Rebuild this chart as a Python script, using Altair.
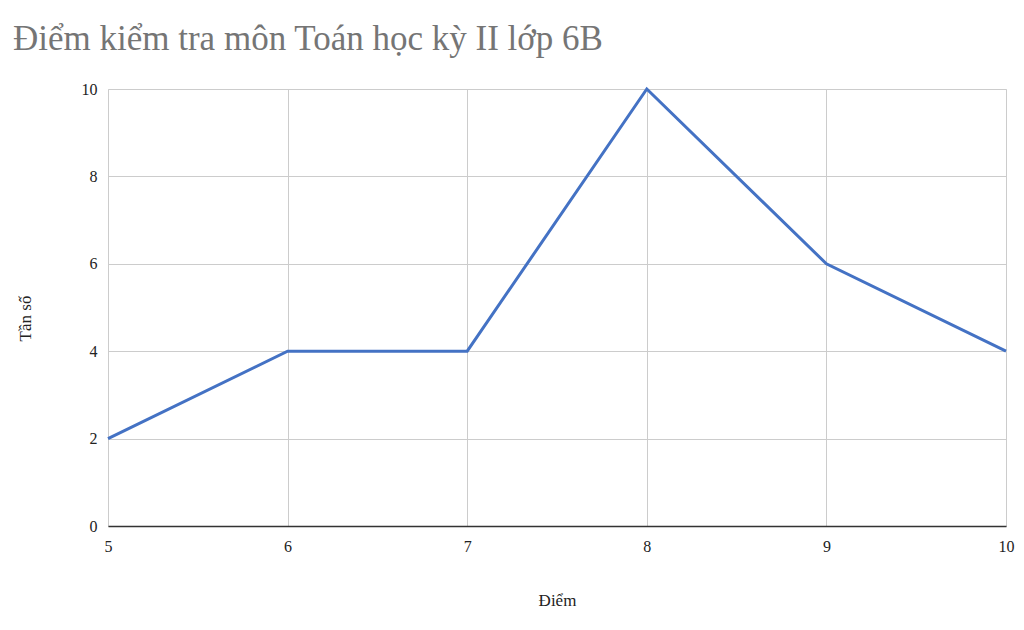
import altair as alt
import pandas as pd

diem = [5, 6, 7, 8, 9, 10]
tan_so = [2, 4, 4, 10, 6, 4]
x_ticks = [5, 6, 7, 8, 9, 10]
y_ticks = [0, 2, 4, 6, 8, 10]

df = pd.DataFrame({"Điểm": diem, "Tần số": tan_so})

FONT = "Liberation Serif"

chart = alt.Chart(df).mark_line(color="#4472C4", strokeWidth=3).encode(
    x=alt.X("Điểm:Q",
            scale=alt.Scale(domain=[5, 10], nice=False, zero=False),
            axis=alt.Axis(values=x_ticks, title="Điểm", format="d",
                          grid=True, gridColor="#cccccc", gridWidth=1,
                          domainColor="#333333", domainWidth=1.5,
                          ticks=False, labelPadding=12, labelFontSize=16,
                          labelFlush=False,
                          labelFont=FONT, labelColor="#222222",
                          titleFont=FONT, titleFontSize=17, titleFontWeight="normal",
                          titleColor="#222222", titleY=74, titleBaseline="middle")),
    y=alt.Y("Tần số:Q",
            scale=alt.Scale(domain=[0, 10], nice=False),
            axis=alt.Axis(values=y_ticks, title="Tần số", format="d",
                          grid=True, gridColor="#cccccc", gridWidth=1,
                          domain=False, ticks=False, labelPadding=11,
                          labelFontSize=16, labelFont=FONT, labelColor="#222222",
                          titleFont=FONT, titleFontSize=17, titleFontWeight="normal",
                          titleColor="#222222", titleX=-83, titleY=229,
                          titleAngle=-90, titleAlign="center", titleBaseline="middle")),
).properties(
    width=898,
    height=437,
    padding={"left": 100, "top": 81, "right": 10, "bottom": 96},
    autosize=alt.AutoSizeParams(type="none"),
    title=alt.TitleParams("Điểm kiểm tra môn Toán học kỳ II lớp 6B",
                          anchor="start", frame="group", dx=-95, offset=24,
                          font=FONT, fontSize=35, fontWeight="normal",
                          color="#757575"),
).configure_view(stroke=None).configure(background="white")

chart.save("out.html", embed_options={"renderer": "svg", "actions": False})
